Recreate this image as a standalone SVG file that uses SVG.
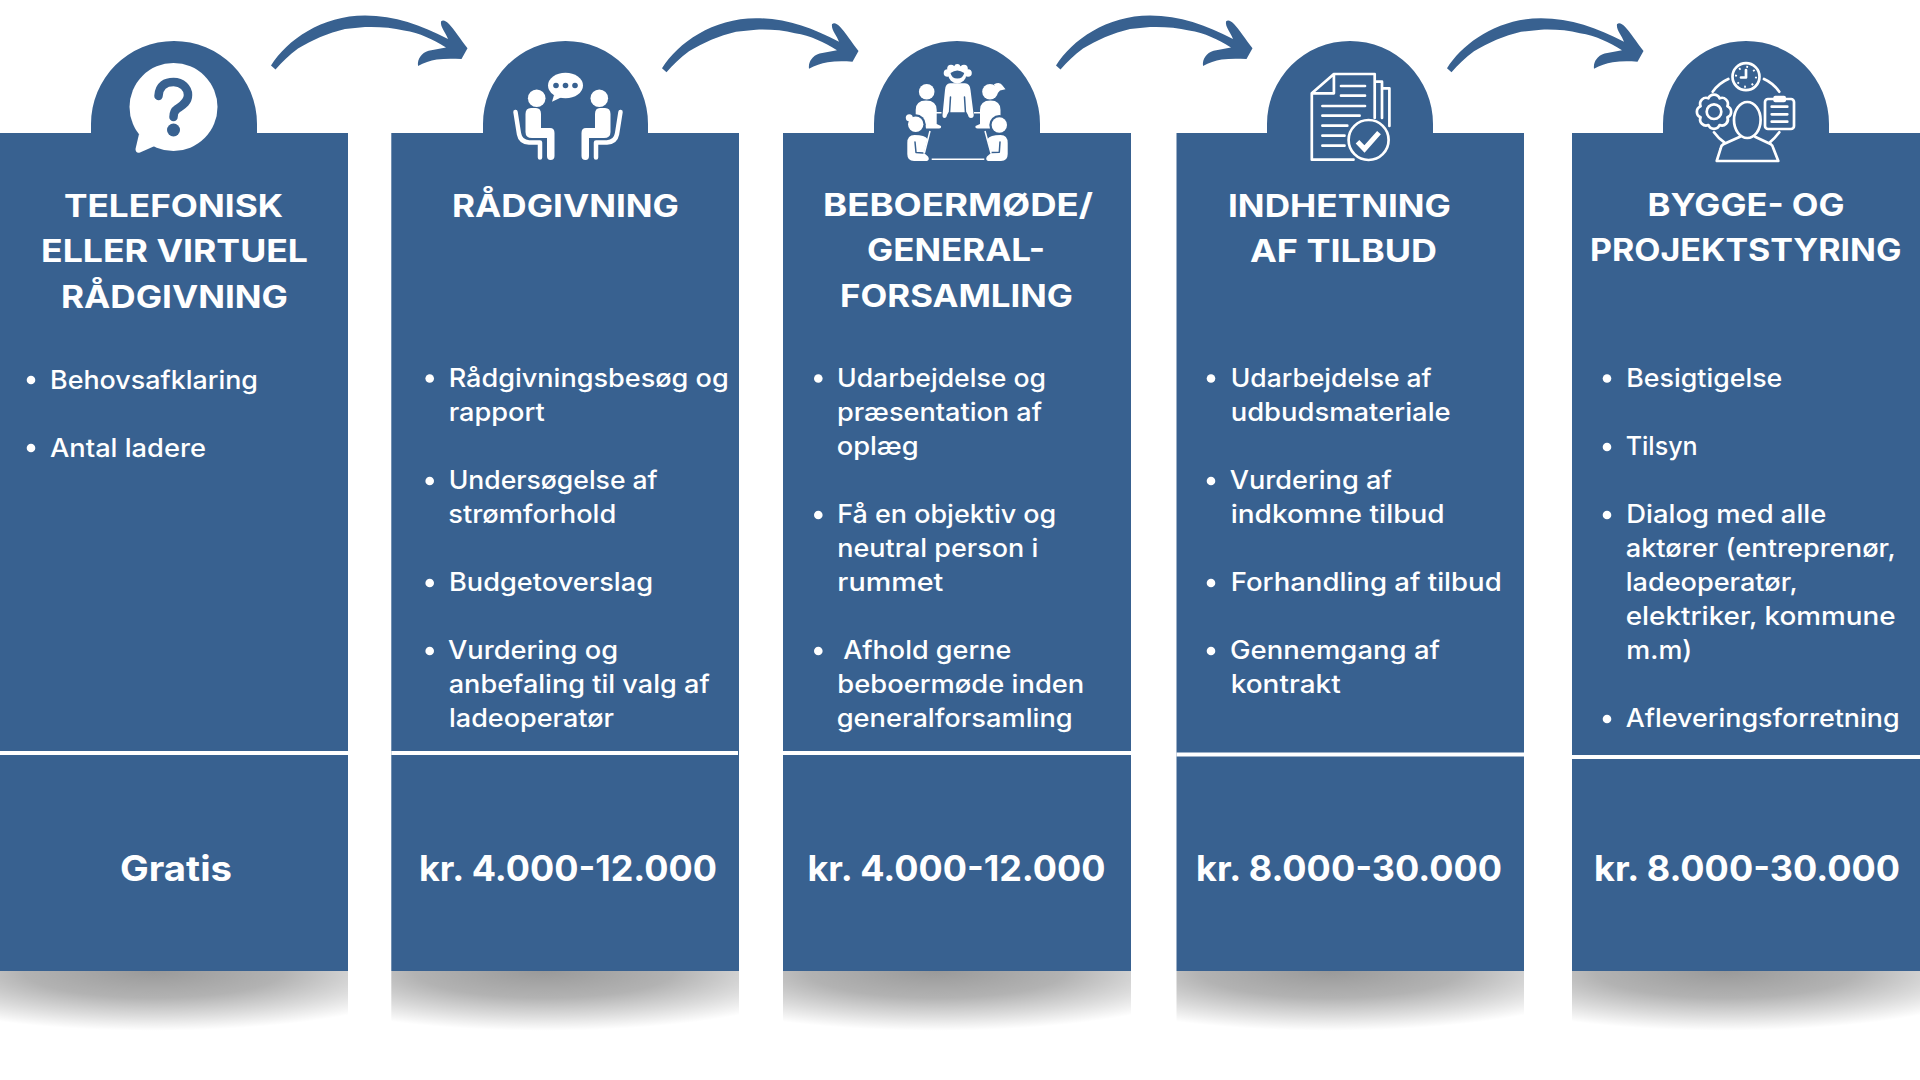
<svg xmlns="http://www.w3.org/2000/svg" width="1920" height="1080" viewBox="0 0 1920 1080">
<style>
text{fill:#fff;font-family:"Inter","Noto Sans","Liberation Sans",sans-serif}
.h{font-size:31px;font-weight:700}
.b{font-size:25.5px;font-weight:450}
.p{font-size:35px;font-weight:700}
.card{fill:#386190}
.rule{fill:#fff}
.dot{fill:#fff}
.sh{fill:url(#shadow)}
.w{fill:#fff}
.bl{fill:#386190}
.ol{fill:none;stroke:#fff;stroke-width:2.7;stroke-linecap:round;stroke-linejoin:round}
.gap{fill:none;stroke:#386190;stroke-width:1.5;stroke-linecap:round;stroke-linejoin:round}
.thin{stroke:#fff;stroke-width:1.5;fill:none}
.arrow{fill:#386190}
</style>
<defs>
<radialGradient id="shadow" cx="0.44" cy="0" r="0.83" fx="0.44" fy="0">
<stop offset="0" stop-color="#000" stop-opacity="0.4"/>
<stop offset="0.45" stop-color="#000" stop-opacity="0.3"/>
<stop offset="0.75" stop-color="#000" stop-opacity="0.14"/>
<stop offset="1" stop-color="#000" stop-opacity="0"/>
</radialGradient>
<path id="arrow" d="M271 65.500C287 40 322 15.500 365 15.500C395 15.500 421 25 448 39C446 33 440 27 441 21.500C443 19.500 446 21 449 24C454 29 461 40 467.500 48.300L461.500 59C452 58.500 444 58.500 436.700 59.500C430 60.500 424 63 418 66C417.500 62 418.500 59 420.400 56.500C422 54 425 52 428.600 50.800L446 47.500C433 39.500 420 33 404 30.500C392 27.500 378 26.500 365 27L345 29C328 33 312 40 298 48.500C289 55 282 62 275.500 69.500Z"/>
<path id="person" d="M531 108H536Q541 108 541 114V128H550Q554.500 128 554.500 133V156Q554.500 160 550.500 160Q547 160 547 156V138H532Q525.500 138 525.500 132V114Q525.500 108 531 108Z"/>
</defs>

<g id="connectors">
<use href="#arrow" class="arrow"/>
<use href="#arrow" class="arrow" transform="translate(391 2.700)"/>
<use href="#arrow" class="arrow" transform="translate(785 0)"/>
<use href="#arrow" class="arrow" transform="translate(1176 2.700)"/>
</g>

<g id="card-1">
<rect class="sh" x="0" y="971" width="348" height="72"/>
<path class="card" d="M0 133H91V124A83 83 0 0 1 257 124V133H348V971H0Z"/>
<rect class="rule" x="0" y="751" width="348" height="4"/>
<g id="icon-1">
<circle class="w" cx="173.500" cy="107" r="44"/>
<path class="w" d="M139 134L135.500 149Q135.500 153.500 140 152.500L157 145Z"/>
<path d="M158.500 96C159 85 166 82 173.500 82C182 82 188 88 188 95C188 103 181 106 177 109C174 111 173.500 113 173.500 117" fill="none" stroke="#386190" stroke-width="8.500" stroke-linecap="round"/>
<circle class="bl" cx="173.500" cy="130" r="6.500"/>
</g>
<text class="h" x="64" y="217" textLength="219" lengthAdjust="spacingAndGlyphs">TELEFONISK</text>
<text class="h" x="41" y="262" textLength="267" lengthAdjust="spacingAndGlyphs">ELLER VIRTUEL</text>
<text class="h" x="61" y="308" textLength="227" lengthAdjust="spacingAndGlyphs">RÅDGIVNING</text>
<circle class="dot" cx="31" cy="380" r="4.300"/>
<text class="b" x="50" y="389" textLength="208" lengthAdjust="spacingAndGlyphs">Behovsafklaring</text>
<circle class="dot" cx="31" cy="448" r="4.300"/>
<text class="b" x="50" y="457" textLength="156" lengthAdjust="spacingAndGlyphs">Antal ladere</text>
<text class="p" x="120" y="881" textLength="112" lengthAdjust="spacingAndGlyphs">Gratis</text>
</g>

<g id="card-2">
<rect class="sh" x="391.300" y="971" width="347.700" height="72"/>
<path class="card" d="M391.300 133H483V124A82.500 83 0 0 1 648 124V133H739V971H391.300Z"/>
<rect class="rule" x="391.300" y="751" width="346.700" height="4"/>
<g id="icon-2">
<ellipse class="w" cx="565.500" cy="85.500" rx="17.500" ry="12.800"/>
<path class="w" d="M554 95L552 101.700L562 97Z"/>
<circle class="bl" cx="556" cy="85.500" r="2.800"/>
<circle class="bl" cx="565.500" cy="85.500" r="2.800"/>
<circle class="bl" cx="575" cy="85.500" r="2.800"/>
<g id="person-left">
<circle class="w" cx="536.700" cy="98.300" r="8.800"/>
<use href="#person" class="w"/>
<path d="M515.500 112L519 134Q520.500 142 529 142.500H540V157.500" fill="none" stroke="#fff" stroke-width="4.500" stroke-linecap="round" stroke-linejoin="round"/>
</g>
<g id="person-right" transform="translate(1136 0) scale(-1 1)">
<circle class="w" cx="536.700" cy="98.300" r="8.800"/>
<use href="#person" class="w"/>
<path d="M515.500 112L519 134Q520.500 142 529 142.500H540V157.500" fill="none" stroke="#fff" stroke-width="4.500" stroke-linecap="round" stroke-linejoin="round"/>
</g>
</g>
<text class="h" x="452" y="217" textLength="227" lengthAdjust="spacingAndGlyphs">RÅDGIVNING</text>
<circle class="dot" cx="429.700" cy="378.500" r="4.300"/>
<text class="b" x="448.700" y="387" textLength="280" lengthAdjust="spacingAndGlyphs">Rådgivningsbesøg og</text>
<text class="b" x="448.700" y="421" textLength="96" lengthAdjust="spacingAndGlyphs">rapport</text>
<circle class="dot" cx="429.700" cy="481" r="4.300"/>
<text class="b" x="448.700" y="489" textLength="209" lengthAdjust="spacingAndGlyphs">Undersøgelse af</text>
<text class="b" x="448.300" y="523" textLength="168" lengthAdjust="spacingAndGlyphs">strømforhold</text>
<circle class="dot" cx="429.700" cy="583" r="4.300"/>
<text class="b" x="449" y="591" textLength="204" lengthAdjust="spacingAndGlyphs">Budgetoverslag</text>
<circle class="dot" cx="429.700" cy="651" r="4.300"/>
<text class="b" x="448" y="659" textLength="170" lengthAdjust="spacingAndGlyphs">Vurdering og</text>
<text class="b" x="448.700" y="693" textLength="261" lengthAdjust="spacingAndGlyphs">anbefaling til valg af</text>
<text class="b" x="449" y="727" textLength="165" lengthAdjust="spacingAndGlyphs">ladeoperatør</text>
<text class="p" x="419" y="881" textLength="298" lengthAdjust="spacingAndGlyphs">kr. 4.000-12.000</text>
</g>

<g id="card-3">
<rect class="sh" x="783" y="971" width="348" height="72"/>
<path class="card" d="M783 133H874V124A83 83 0 0 1 1040 124V133H1131V971H783Z"/>
<rect class="rule" x="783" y="751" width="348" height="4"/>
<g id="icon-3">
<circle class="w" cx="957.300" cy="74.500" r="9"/>
<circle class="w" cx="947.500" cy="73" r="3.800"/><circle class="w" cx="951" cy="68.500" r="3.800"/><circle class="w" cx="957.300" cy="67" r="3"/><circle class="w" cx="964" cy="68.500" r="3.800"/><circle class="w" cx="968" cy="73" r="3.800"/>
<path class="bl" d="M950.500 73Q957.300 68 964.200 73A7 7 0 0 1 950.500 73Z"/>
<path class="w" d="M950 83.300H965Q970 83.300 970.500 90L973.700 115Q973.700 118 971 118Q968.500 118 968 115L966.500 112.300H948.500L947 115Q946.500 118 944.500 118Q942.300 118 942.500 115L945 90Q945.500 83.300 950 83.300Z"/>
<path class="gap" d="M950.500 97L949.500 113M964.500 97L965.500 113"/>
<circle class="w" cx="926.700" cy="91.700" r="7.800"/>
<path class="w" d="M915.700 123V110Q915.700 100.500 926 100.500Q936.700 100.500 936.700 110V124L941 126Q941.500 128.500 939 128.500H926L925 123Z"/>
<rect class="w" x="936" y="112" width="5.500" height="1.500"/>
<circle class="w" cx="990" cy="91.700" r="7.800"/>
<path class="w" d="M994 84.300Q1000 81 1002.500 85.500L1005.500 89.300L1000 90.500L997 94Z"/>
<path class="w" d="M1000.500 123V110Q1000.500 100.500 990.500 100.500Q980 100.500 980 110V124L975.500 126Q975 128.500 977.500 128.500H990L991 123Z"/>
<rect class="w" x="974" y="112" width="6" height="1.500"/>
<circle class="bl" cx="915.700" cy="124.300" r="10"/>
<circle class="w" cx="915.700" cy="124.300" r="7.700"/>
<circle class="w" cx="909.300" cy="117.700" r="3.500"/>
<path class="w" d="M914.500 135Q925 135 927.500 139L924 153L928 156.500Q930 159.500 927 161H914Q907.300 161 907.300 154V143Q907.300 135 914.500 135Z"/>
<path class="gap" d="M915 142L916 152.500L923 153"/>
<path class="thin" d="M930 131L924.300 153.300"/>
<circle class="bl" cx="999.300" cy="125" r="10"/>
<circle class="w" cx="999.300" cy="125" r="7.700"/>
<path class="w" d="M1000.500 135Q1007.700 135 1007.700 143V154Q1007.700 161 1001 161H988Q985 159.500 987 156.500L991 153L987.500 139Q990 135 1000.500 135Z"/>
<path class="gap" d="M1000 142L999.300 152.300L991.700 152.500"/>
<path class="thin" d="M985 131L991 153.300"/>
<path class="thin" d="M931.700 159.300H984.300"/>
</g>
<text class="h" x="823" y="215.500" textLength="270" lengthAdjust="spacingAndGlyphs">BEBOERMØDE/</text>
<text class="h" x="867" y="260.500" textLength="178" lengthAdjust="spacingAndGlyphs">GENERAL-</text>
<text class="h" x="840" y="306.500" textLength="233" lengthAdjust="spacingAndGlyphs">FORSAMLING</text>
<circle class="dot" cx="818.300" cy="378.500" r="4.300"/>
<text class="b" x="837" y="387" textLength="209" lengthAdjust="spacingAndGlyphs">Udarbejdelse og</text>
<text class="b" x="837" y="421" textLength="205" lengthAdjust="spacingAndGlyphs">præsentation af</text>
<text class="b" x="836.700" y="455" textLength="82" lengthAdjust="spacingAndGlyphs">oplæg</text>
<circle class="dot" cx="818.300" cy="515" r="4.300"/>
<text class="b" x="837.300" y="523" textLength="219" lengthAdjust="spacingAndGlyphs">Få en objektiv og</text>
<text class="b" x="837.300" y="557" textLength="201" lengthAdjust="spacingAndGlyphs">neutral person i</text>
<text class="b" x="837.300" y="591" textLength="106" lengthAdjust="spacingAndGlyphs">rummet</text>
<circle class="dot" cx="818.300" cy="651" r="4.300"/>
<text class="b" x="843.300" y="659" textLength="168" lengthAdjust="spacingAndGlyphs">Afhold gerne</text>
<text class="b" x="837.300" y="693" textLength="247" lengthAdjust="spacingAndGlyphs">beboermøde inden</text>
<text class="b" x="836.700" y="727" textLength="236" lengthAdjust="spacingAndGlyphs">generalforsamling</text>
<text class="p" x="807.500" y="881" textLength="298" lengthAdjust="spacingAndGlyphs">kr. 4.000-12.000</text>
</g>

<g id="card-4">
<rect class="sh" x="1176.500" y="971" width="347.500" height="72"/>
<path class="card" d="M1176.500 133H1267V124A83 83 0 0 1 1433 124V133H1524V971H1176.500Z"/>
<rect class="rule" x="1176.500" y="752.500" width="347.500" height="4"/>
<g id="icon-4">
<path class="ol" d="M1353.500 159.700H1311.800V93.300L1333.900 74H1374.700V118M1333.900 74V93.300H1311.800M1376.500 81.700H1382V118M1383.500 88.300H1389.400V126"/>
<path class="ol" d="M1341 86H1365M1341 95.700H1365M1322.400 106H1365M1322.400 115.700H1359.600M1322.400 125.700H1347.300M1322.400 135.700H1344.500M1322.400 145.700H1344.500"/>
<circle class="ol" cx="1368.600" cy="140" r="20"/>
<path d="M1357.500 141.700L1364.500 149L1379 132.700" fill="none" stroke="#fff" stroke-width="5"/>
</g>
<text class="h" x="1228" y="217" textLength="223" lengthAdjust="spacingAndGlyphs">INDHETNING</text>
<text class="h" x="1250" y="262" textLength="187" lengthAdjust="spacingAndGlyphs">AF TILBUD</text>
<circle class="dot" cx="1211" cy="378.500" r="4.300"/>
<text class="b" x="1230.700" y="387" textLength="201" lengthAdjust="spacingAndGlyphs">Udarbejdelse af</text>
<text class="b" x="1230.700" y="421" textLength="220" lengthAdjust="spacingAndGlyphs">udbudsmateriale</text>
<circle class="dot" cx="1211" cy="481" r="4.300"/>
<text class="b" x="1229.700" y="489" textLength="162" lengthAdjust="spacingAndGlyphs">Vurdering af</text>
<text class="b" x="1230.700" y="523" textLength="214" lengthAdjust="spacingAndGlyphs">indkomne tilbud</text>
<circle class="dot" cx="1211" cy="583" r="4.300"/>
<text class="b" x="1230.700" y="591" textLength="271" lengthAdjust="spacingAndGlyphs">Forhandling af tilbud</text>
<circle class="dot" cx="1211" cy="651" r="4.300"/>
<text class="b" x="1230" y="659" textLength="210" lengthAdjust="spacingAndGlyphs">Gennemgang af</text>
<text class="b" x="1230.700" y="693" textLength="110" lengthAdjust="spacingAndGlyphs">kontrakt</text>
<text class="p" x="1196" y="881" textLength="306" lengthAdjust="spacingAndGlyphs">kr. 8.000-30.000</text>
</g>

<g id="card-5">
<rect class="sh" x="1572" y="971" width="348" height="72"/>
<path class="card" d="M1572 133H1663V124A83 83 0 0 1 1829 124V133H1920V971H1572Z"/>
<rect class="rule" x="1572" y="755" width="348" height="4"/>
<g id="icon-5">
<circle class="ol" cx="1746" cy="76.700" r="13.500"/>
<circle cx="1746" cy="76.700" r="10" fill="none" stroke="#fff" stroke-width="2" stroke-dasharray="1.800 6.054"/>
<path class="ol" d="M1746 70V77.500H1741"/>
<path class="ol" d="M1712.700 91.700Q1719 83 1728.300 79M1764 79Q1773 83 1779.300 91.700M1714 132.300Q1718 138 1724.300 142.300M1779.300 132.300Q1775 138 1770 142.300"/>
<path class="ol" transform="translate(1714 111.700)" d="M13.400 5.550A6 6 0 0 1 5.550 13.400A6 6 0 0 1 -5.550 13.400A6 6 0 0 1 -13.400 5.550A6 6 0 0 1 -13.400 -5.550A6 6 0 0 1 -5.550 -13.400A6 6 0 0 1 5.550 -13.400A6 6 0 0 1 13.400 -5.550A6 6 0 0 1 13.400 5.550Z"/>
<circle class="ol" cx="1714" cy="111.700" r="7.300"/>
<rect class="ol" x="1765" y="99" width="29" height="30" rx="3"/>
<rect x="1773.300" y="95.700" width="12.700" height="6.600" rx="2" fill="#fff"/>
<path class="ol" d="M1771.700 106.700H1787.300M1771.700 114.300H1787.300M1771.700 121.700H1787.300"/>
<ellipse class="ol" cx="1747.300" cy="120" rx="13.300" ry="18"/>
<path class="ol" d="M1740 136.700L1723.300 144.300Q1721 145.500 1720.700 148.300L1716.700 161H1778.300L1773.300 148.300Q1773 145.500 1771 144.300L1755 136.700"/>
</g>
<text class="h" x="1647.600" y="215.500" textLength="197" lengthAdjust="spacingAndGlyphs">BYGGE- OG</text>
<text class="h" x="1590" y="260.500" textLength="311.400" lengthAdjust="spacingAndGlyphs">PROJEKTSTYRING</text>
<circle class="dot" cx="1607" cy="378.500" r="4.300"/>
<text class="b" x="1626.300" y="387" textLength="156" lengthAdjust="spacingAndGlyphs">Besigtigelse</text>
<circle class="dot" cx="1607" cy="447" r="4.300"/>
<text class="b" x="1625.700" y="455" textLength="72" lengthAdjust="spacingAndGlyphs">Tilsyn</text>
<circle class="dot" cx="1607" cy="515" r="4.300"/>
<text class="b" x="1626.300" y="523" textLength="200" lengthAdjust="spacingAndGlyphs">Dialog med alle</text>
<text class="b" x="1625.700" y="557" textLength="270" lengthAdjust="spacingAndGlyphs">aktører (entreprenør,</text>
<text class="b" x="1625.700" y="591" textLength="172" lengthAdjust="spacingAndGlyphs">ladeoperatør,</text>
<text class="b" x="1625.700" y="625" textLength="270" lengthAdjust="spacingAndGlyphs">elektriker, kommune</text>
<text class="b" x="1626.300" y="659" textLength="66" lengthAdjust="spacingAndGlyphs">m.m)</text>
<circle class="dot" cx="1607" cy="719" r="4.300"/>
<text class="b" x="1625.700" y="727" textLength="274" lengthAdjust="spacingAndGlyphs">Afleveringsforretning</text>
<text class="p" x="1594" y="881" textLength="306" lengthAdjust="spacingAndGlyphs">kr. 8.000-30.000</text>
</g>
</svg>
